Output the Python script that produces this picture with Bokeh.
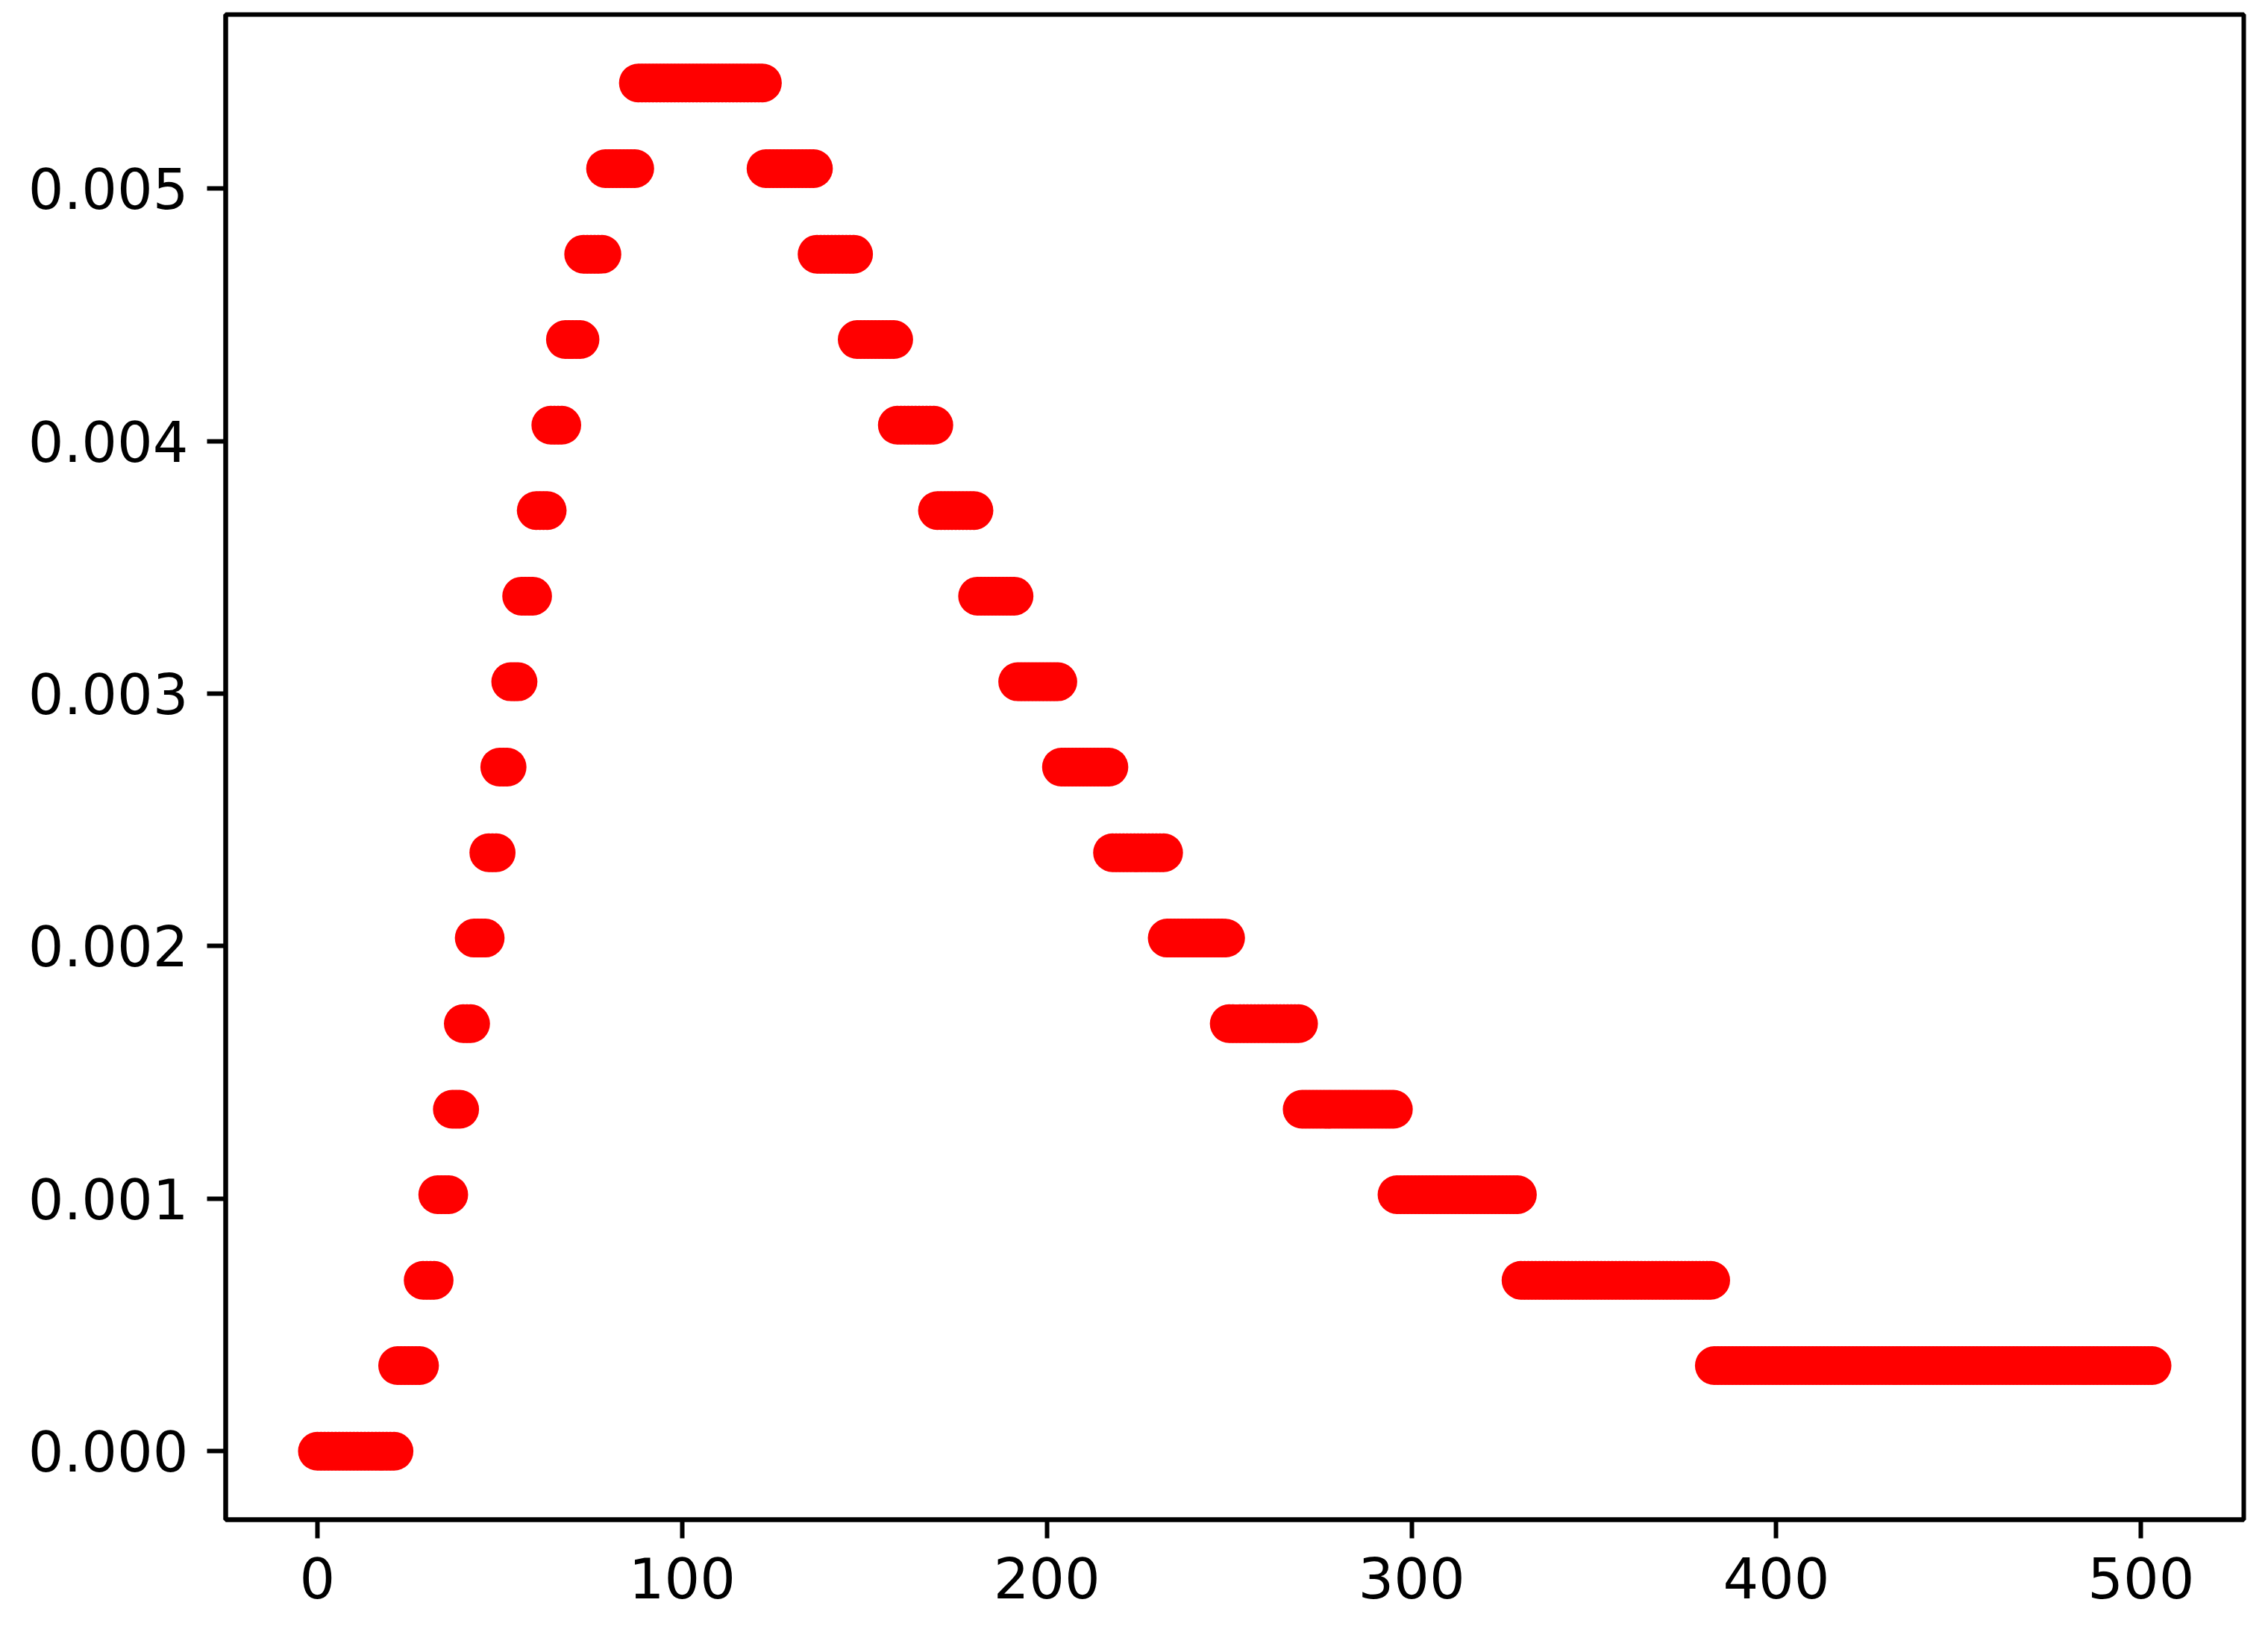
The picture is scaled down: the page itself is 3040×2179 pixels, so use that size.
#!/usr/bin/env python3
"""
Step profile plot

Draws a quantised, peaked profile as a dense run of red dots, one per
integer position, so that equal values merge into rounded bars.
"""

import logging
from bokeh.plotting import figure
from bokeh.embed import file_html
from bokeh.resources import INLINE
from bokeh.models import ColumnDataSource, Range1d, FixedTicker, NumeralTickFormatter

logging.basicConfig(level=logging.INFO, format='%(asctime)s - %(levelname)s - %(message)s')
logger = logging.getLogger(__name__)

# Runs of equal value: first position, last position, value
run_start = [0, 22, 29, 33, 37, 40, 43, 47, 50, 53, 56, 60, 64, 68, 73, 79,
             88,
             123, 137, 148, 159, 170, 181, 192, 204, 218, 233, 250, 270, 296, 330, 383]
run_end = [21, 28, 32, 36, 39, 42, 46, 49, 52, 55, 59, 63, 67, 72, 78, 87,
           122,
           136, 147, 158, 169, 180, 191, 203, 217, 232, 249, 269, 295, 329, 382, 503]
run_value = [0.0, 0.000339, 0.000677, 0.001016, 0.001354, 0.001693, 0.002032,
             0.002370, 0.002709, 0.003047, 0.003386, 0.003725, 0.004063,
             0.004402, 0.004740, 0.005079,
             0.005418,
             0.005079, 0.004740, 0.004402, 0.004063, 0.003725, 0.003386,
             0.003047, 0.002709, 0.002370, 0.002032, 0.001693, 0.001354,
             0.001016, 0.000677, 0.000339]

x_ticks = [0, 100, 200, 300, 400, 500]
y_ticks = [0.0, 0.001, 0.002, 0.003, 0.004, 0.005]


def build_points():
    """Expand the runs into one point per integer position."""
    xs, ys = [], []
    for start, end, val in zip(run_start, run_end, run_value):
        for pos in range(start, end + 1):
            xs.append(pos)
            ys.append(val)
    return xs, ys


def plot_profile():
    xs, ys = build_points()

    # matplotlib-like 5% padding around the data
    x_pad = (max(xs) - min(xs)) * 0.05
    y_pad = (max(ys) - min(ys)) * 0.05

    p = figure(
        frame_width=2705,
        frame_height=2017,
        min_border_left=302,
        min_border_right=25,
        min_border_top=19,
        min_border_bottom=135,
        x_range=Range1d(min(xs) - x_pad, max(xs) + x_pad),
        y_range=Range1d(min(ys) - y_pad, max(ys) + y_pad),
        output_backend="svg",
        toolbar_location=None,
        background_fill_color="white",
        border_fill_color="white",
    )

    p.scatter(x='x', y='y', source=ColumnDataSource(dict(x=xs, y=ys)),
              marker="circle", size=52, fill_color="#ff0000", line_color=None)

    p.xgrid.visible = False
    p.ygrid.visible = False

    p.outline_line_color = "black"
    p.outline_line_width = 6
    p.outline_line_alpha = 1.0

    p.xaxis.ticker = FixedTicker(ticks=x_ticks)
    p.yaxis.ticker = FixedTicker(ticks=y_ticks)
    p.yaxis.formatter = NumeralTickFormatter(format="0.000")

    for ax in (p.xaxis, p.yaxis):
        ax.axis_line_width = 6
        ax.axis_line_color = "black"
        ax.major_tick_line_width = 6
        ax.major_tick_line_color = "black"
        ax.major_tick_out = 25
        ax.major_tick_in = 0
        ax.minor_tick_out = 0
        ax.minor_tick_in = 0
        ax.major_label_standoff = 25
        ax.major_label_text_font = "DejaVu Sans"
        ax.major_label_text_font_size = "75px"
        ax.major_label_text_color = "black"

    return p


if __name__ == "__main__":
    p = plot_profile()
    open("out.html", "w").write(file_html(p, INLINE))
    logger.info("Plot written to out.html")
